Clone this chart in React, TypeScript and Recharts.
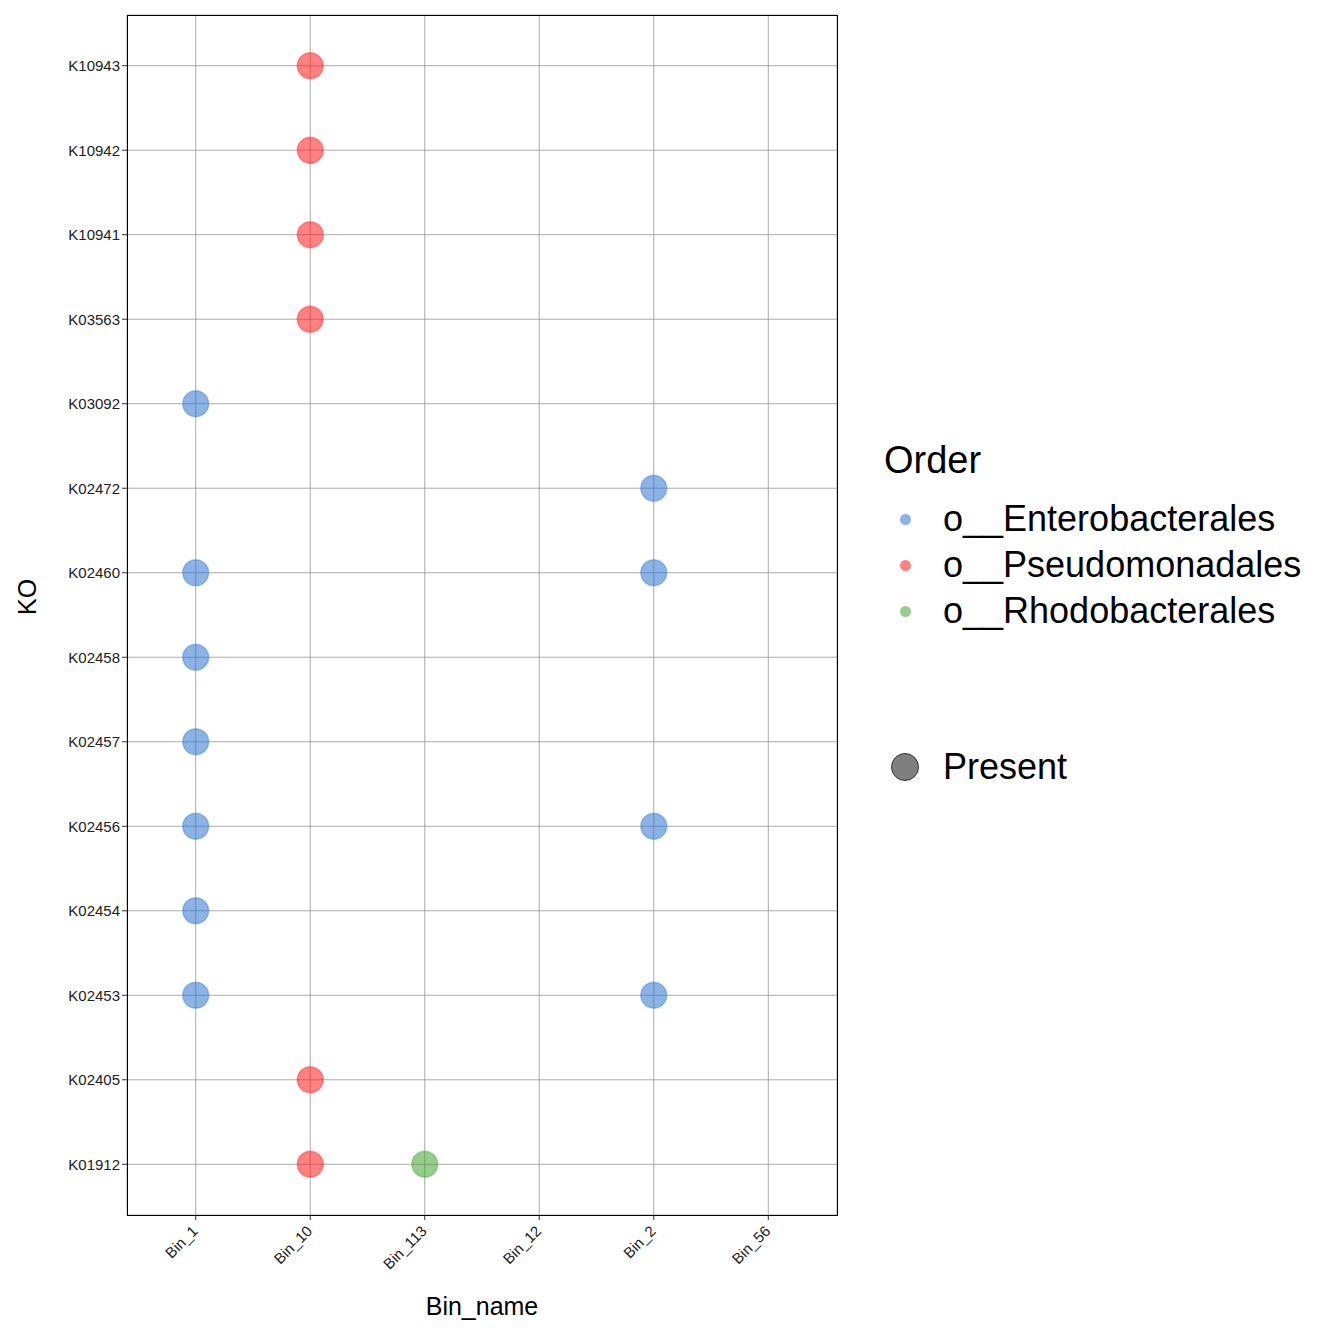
import React from "react";
import { CartesianGrid, Scatter, ScatterChart, XAxis, YAxis } from "recharts";

const bins = ["Bin_1", "Bin_10", "Bin_113", "Bin_12", "Bin_2", "Bin_56"];
const kos = [
  "K01912", "K02405", "K02453", "K02454", "K02456", "K02457", "K02458",
  "K02460", "K02472", "K03092", "K03563", "K10941", "K10942", "K10943",
];

const enteroPoints: [string, string][] = [
  ["Bin_1", "K03092"], ["Bin_1", "K02460"], ["Bin_1", "K02458"], ["Bin_1", "K02457"],
  ["Bin_1", "K02456"], ["Bin_1", "K02454"], ["Bin_1", "K02453"],
  ["Bin_2", "K02472"], ["Bin_2", "K02460"], ["Bin_2", "K02456"], ["Bin_2", "K02453"],
];
const pseudoPoints: [string, string][] = [
  ["Bin_10", "K10943"], ["Bin_10", "K10942"], ["Bin_10", "K10941"], ["Bin_10", "K03563"],
  ["Bin_10", "K02405"], ["Bin_10", "K01912"],
];
const rhodoPoints: [string, string][] = [["Bin_113", "K01912"]];

const series = [
  { name: "o__Enterobacterales", color: "#2b74d0", points: enteroPoints },
  { name: "o__Pseudomonadales", color: "#ff1a1a", points: pseudoPoints },
  { name: "o__Rhodobacterales", color: "#3fa32e", points: rhodoPoints },
];

const toData = (pts: [string, string][]) =>
  pts.map(([b, k]) => ({ x: bins.indexOf(b) + 1, y: kos.indexOf(k) + 1 }));

const font = "Liberation Sans, Arial, sans-serif";

const Dot = (color: string) => (props: any) => (
  <circle cx={props.cx} cy={props.cy} r={13} fill={color} fillOpacity={0.55} stroke={color} strokeOpacity={0.35} strokeWidth={1.5} />
);

const XTick = (props: any) => {
  const { x, y, payload } = props;
  return (
    <text x={x + 3} y={y + 10} transform={`rotate(-45 ${x + 3} ${y + 10})`} textAnchor="end" fontSize={15} fill="#222" fontFamily={font}>
      {bins[payload.value - 1]}
    </text>
  );
};

export default function App() {
  return (
    <div style={{ position: "absolute", left: 0, top: 0, width: 1344, height: 1344, background: "#fff", fontFamily: font }}>
      <ScatterChart width={1344} height={1344} margin={{ top: 15, right: 507, left: 47, bottom: 49 }}>
        <CartesianGrid stroke="#888" strokeWidth={0.7} />
        <XAxis type="number" dataKey="x" domain={[0.4, 6.6]} ticks={[1, 2, 3, 4, 5, 6]} height={80}
          tick={<XTick />} tickLine={{ stroke: "#333" }} axisLine={false} tickSize={5}
          label={{ value: "Bin_name", position: "insideBottom", offset: -20, fontSize: 25, fill: "#000" }} />
        <YAxis type="number" dataKey="y" domain={[0.4, 14.6]} ticks={kos.map((_, i) => i + 1)} width={80}
          tickFormatter={(v: number) => kos[v - 1]} tick={{ fontSize: 15, fill: "#222" }}
          tickLine={{ stroke: "#333" }} axisLine={false} tickSize={5}
          label={{ value: "KO", angle: -90, position: "insideLeft", offset: -20, fontSize: 25, fill: "#000" }} />
        {series.map((s) => (
          <Scatter key={s.name} data={toData(s.points)} shape={Dot(s.color)} isAnimationActive={false} />
        ))}
      </ScatterChart>
      <div style={{ position: "absolute", left: 127, top: 15, width: 709, height: 1199, border: "1px solid #000", pointerEvents: "none" }} />
      <div style={{ position: "absolute", left: 884, top: 439, fontSize: 38, color: "#000" }}>Order</div>
      {series.map((s, i) => (
        <div key={s.name} style={{ position: "absolute", left: 900, top: 498 + i * 46, display: "flex", alignItems: "center", fontSize: 36 }}>
          <span style={{ width: 11, height: 11, borderRadius: "50%", background: s.color, opacity: 0.55, marginRight: 32 }} />
          {s.name}
        </div>
      ))}
      <div style={{ position: "absolute", left: 891, top: 746, display: "flex", alignItems: "center", fontSize: 36 }}>
        <span style={{ width: 26, height: 26, borderRadius: "50%", background: "rgba(0,0,0,0.5)", border: "1px solid #333", marginRight: 24 }} />
        Present
      </div>
    </div>
  );
}
